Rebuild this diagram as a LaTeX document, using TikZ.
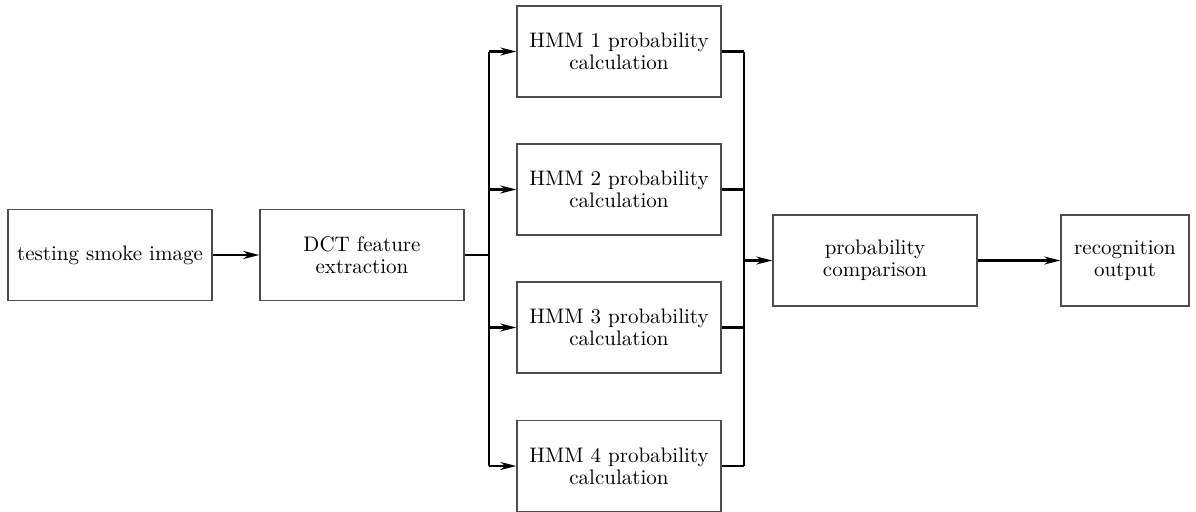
\documentclass[tikz,border=0pt]{standalone}
\usepackage{tikz}
\usetikzlibrary{arrows.meta,positioning,calc}

\tikzset{
  blk/.style={draw=black!70,line width=0.7pt,minimum width=102pt,minimum height=45.5pt,
    align=center,inner sep=1pt,font=\fontsize{10.5}{11}\selectfont},
  conn/.style={line width=1.1pt},
  arr/.style={conn,-{Stealth[length=8pt,width=4pt,inset=2.5pt]}}
}

\begin{document}
\begin{tikzpicture}[x=0.5pt,y=-0.5pt]
\useasboundingbox (0,0) rectangle (1196,511);
\node[blk] (test) at (110,255) {testing smoke image};
\node[blk] (dct) at (362,255) {DCT feature\\extraction};
\node[blk] (hmm1) at (619,51.5) {HMM 1 probability\\calculation};
\node[blk] (hmm2) at (619,189.5) {HMM 2 probability\\calculation};
\node[blk] (hmm3) at (619,327.5) {HMM 3 probability\\calculation};
\node[blk] (hmm4) at (619,466) {HMM 4 probability\\calculation};
\node[blk] (cmp) at (875,260.5) {probability\\comparison};
\node[blk,minimum width=64pt] (rec) at (1125,260.5) {recognition\\output};
\coordinate (split) at (489,255);
\coordinate (merge) at (744,260.5);
\draw[arr] (test) -- (dct);
\draw[conn] (dct.east) -- (split);
\draw[conn] (split |- hmm1) -- (split |- hmm4);
\foreach \h in {hmm1,hmm2,hmm3,hmm4} {\draw[arr] (split |- \h) -- (\h.west);}
\foreach \h in {hmm1,hmm2,hmm3,hmm4} {\draw[conn] (\h.east) -- (merge |- \h);}
\draw[conn] (merge |- hmm1) -- (merge |- hmm4);
\draw[arr] (merge) -- (cmp.west);
\draw[arr] (cmp) -- (rec);
\end{tikzpicture}
\end{document}
